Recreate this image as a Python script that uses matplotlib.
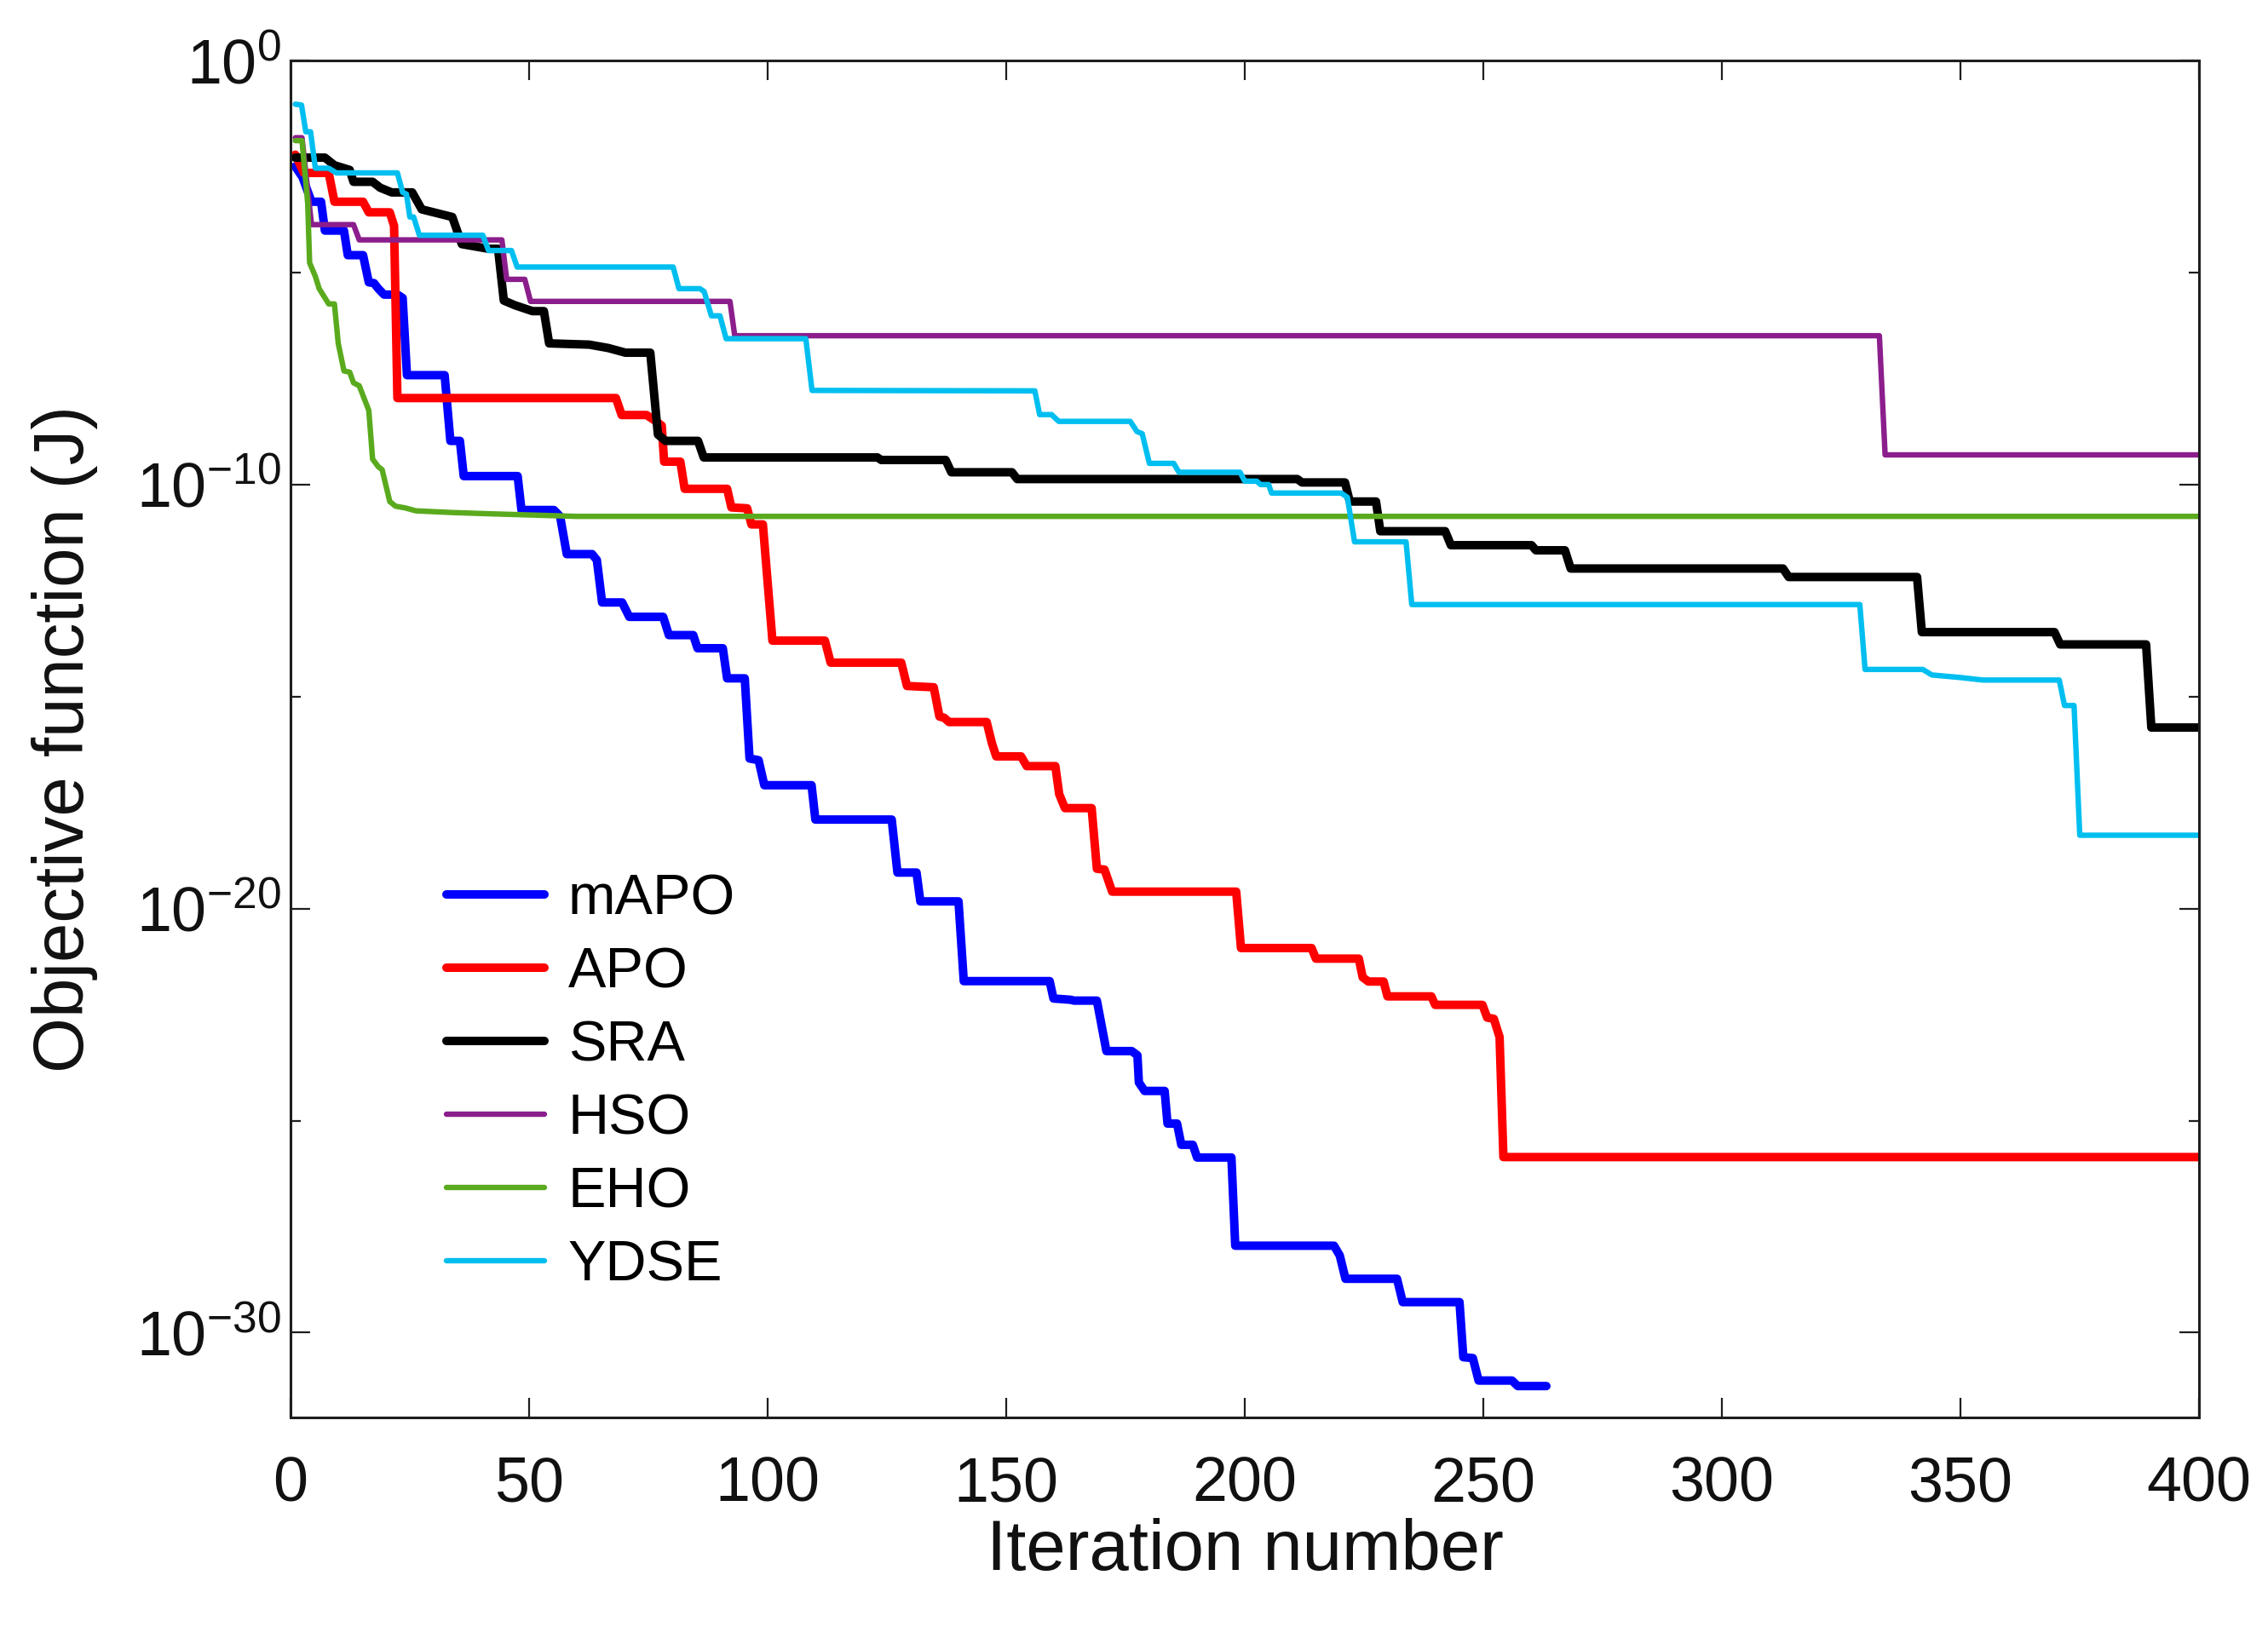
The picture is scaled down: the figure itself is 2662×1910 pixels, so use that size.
import numpy as np
import matplotlib
matplotlib.use("Agg")
import matplotlib.pyplot as plt
from matplotlib.ticker import FixedLocator, FuncFormatter, NullFormatter

plt.rcParams['font.family'] = ['Liberation Sans', 'DejaVu Sans']
plt.rcParams['mathtext.fontset'] = 'custom'
plt.rcParams['mathtext.rm'] = 'Liberation Sans'
plt.rcParams['mathtext.it'] = 'Liberation Sans'
plt.rcParams['mathtext.default'] = 'regular'

# ---------------- data (iteration, log10 of objective) ----------------
mapo_it = [1, 2.5, 4.4, 6.4, 7.2, 11.2, 12, 15.2, 16.4, 17.5, 18.4, 19.6, 22.4, 23.5, 24.4,
           32.3, 33.5, 35.5, 36.3, 47.6, 48.4, 55.2, 56.5, 57.9, 63.2, 64.2, 65.3, 69.5, 71,
           78.1, 79.3, 84.4, 85.3, 90.6, 91.5, 95.2, 96.2, 98.1, 99.3, 109.2, 110.0, 126,
           127.2, 131.2, 132, 140, 141.1, 159.1, 159.9, 163.5, 164.2, 169, 171, 176.3, 177.5,
           177.8, 179, 183.2, 183.8, 185.8, 186.7, 189.1, 190, 197.2, 198.0, 218.7, 219.9,
           221.1, 231.9, 233.1, 245, 245.8, 247.8, 249, 256, 257.2, 263.2]
mapo_log = [-2.5, -2.75, -3.33, -3.33, -4.01, -4.01, -4.59, -4.59, -5.23, -5.25, -5.38, -5.52,
            -5.52, -5.6, -7.42, -7.42, -8.97, -8.97, -9.8, -9.8, -10.6, -10.6, -10.75, -11.64,
            -11.64, -11.78, -12.78, -12.78, -13.12, -13.12, -13.55, -13.55, -13.86, -13.86,
            -14.57, -14.57, -16.46, -16.5, -17.09, -17.09, -17.9, -17.9, -19.15, -19.15,
            -19.83, -19.83, -21.71, -21.71, -22.12, -22.15, -22.17, -22.17, -23.36, -23.36,
            -23.46, -24.1, -24.3, -24.3, -25.07, -25.07, -25.57, -25.57, -25.87, -25.87,
            -27.95, -27.95, -28.18, -28.73, -28.73, -29.28, -29.28, -30.58, -30.6, -31.13,
            -31.13, -31.26, -31.26]

apo_it = [1, 2.8, 8, 9.2, 15.2, 16.4, 20.8, 21.7, 22.4, 68.2, 69.4, 74.6, 76.5, 77.8, 78.3,
          81.7, 82.6, 91.5, 92.4, 95.7, 96.6, 99, 101, 112, 113.2, 128, 129.2, 134.8, 136,
          137, 138, 145.9, 147, 147.9, 153.1, 154.3, 160.3, 161.1, 162.3, 167.9, 169, 170.6,
          172.2, 198.2, 199.2, 214, 214.9, 223.9, 224.7, 225.9, 229.1, 229.9, 239.1, 239.9,
          249.8, 250.8, 252.2, 253.4, 254.2, 400]
apo_log = [-2.22, -2.65, -2.65, -3.33, -3.33, -3.58, -3.58, -3.9, -7.96, -7.96, -8.36, -8.36,
           -8.5, -8.61, -9.46, -9.46, -10.1, -10.1, -10.54, -10.56, -10.94, -10.94, -13.68,
           -13.68, -14.2, -14.2, -14.75, -14.78, -15.47, -15.5, -15.6, -15.6, -16.1, -16.41,
           -16.41, -16.64, -16.64, -17.3, -17.63, -17.63, -19.06, -19.08, -19.6, -19.6,
           -20.93, -20.93, -21.18, -21.18, -21.62, -21.72, -21.72, -22.07, -22.07, -22.27,
           -22.27, -22.57, -22.6, -23.03, -25.86, -25.86]

sra_it = [1, 7.2, 9.2, 12.4, 13.2, 17.2, 18.8, 21.2, 25.5, 27.5, 30, 33.9, 35.9, 41.5, 43.5,
          44.7, 47, 50.7, 53.1, 54.2, 62.6, 66.6, 70.2, 75.4, 77, 78.6, 85.4, 86.6, 123,
          123.8, 137.3, 138.5, 151.2, 152.3, 211, 212, 221, 222, 227.5, 228.4, 242, 243.2,
          260.1, 261, 267.1, 268.3, 312.8, 314, 340.9, 341.9, 369.7, 370.9, 388.9, 390, 400]
sra_log = [-2.29, -2.29, -2.47, -2.58, -2.86, -2.86, -3.0, -3.11, -3.11, -3.51, -3.58, -3.69,
           -4.33, -4.44, -4.44, -5.66, -5.77, -5.91, -5.91, -6.67, -6.7, -6.78, -6.89, -6.89,
           -8.82, -8.97, -8.97, -9.36, -9.36, -9.42, -9.42, -9.71, -9.71, -9.87, -9.87,
           -9.95, -9.95, -10.4, -10.4, -11.1, -11.1, -11.43, -11.43, -11.55, -11.55, -11.98,
           -11.98, -12.18, -12.18, -13.48, -13.48, -13.77, -13.77, -15.73, -15.73]

hso_it = [1, 2.4, 4.4, 13.2, 14.4, 44.3, 45.3, 49.1, 50.3, 92.1, 93.1, 333.0, 334.2, 400]
hso_log = [-1.82, -1.82, -3.87, -3.87, -4.23, -4.23, -5.16, -5.16, -5.68, -5.68, -6.49,
           -6.49, -9.30, -9.30]

eho_it = [1, 2.4, 3.6, 4, 5.2, 6, 8, 9.2, 10, 11.2, 12.4, 13.2, 14.4, 16.4, 17.2, 18.4, 19.2,
          20.8, 22, 24, 26.3, 34, 42, 54, 60, 400]
eho_log = [-1.89, -1.89, -3.37, -4.77, -5.09, -5.38, -5.74, -5.74, -6.67, -7.32, -7.35, -7.6,
           -7.67, -8.25, -9.4, -9.58, -9.65, -10.4, -10.51, -10.55, -10.62, -10.66, -10.69,
           -10.73, -10.75, -10.75]

ydse_it = [1, 2.3, 3.2, 4.2, 5.2, 8, 9.6, 22.4, 23.5, 24.3, 25, 25.8, 27, 40.3, 41.5, 46.3,
           47.5, 80.2, 81.4, 85.8, 86.7, 88.2, 90, 91.3, 108, 109.3, 156, 157, 159.5, 161,
           176, 177.4, 178.5, 180, 185.1, 186.2, 199, 200, 202.5, 203.3, 205, 205.6, 220.2,
           221.5, 223, 233.8, 235, 328.9, 330, 342.1, 344, 349.9, 354.7, 370.7, 371.8, 373.8,
           375, 400]
ydse_log = [-1.03, -1.05, -1.68, -1.68, -2.54, -2.54, -2.65, -2.65, -3.11, -3.15, -3.69,
            -3.69, -4.12, -4.12, -4.48, -4.48, -4.87, -4.87, -5.38, -5.38, -5.45, -6.02,
            -6.02, -6.56, -6.56, -7.78, -7.79, -8.35, -8.35, -8.51, -8.51, -8.75, -8.8, -9.5,
            -9.5, -9.71, -9.71, -9.92, -9.92, -10.0, -10.0, -10.2, -10.2, -10.3, -11.35,
            -11.35, -12.83, -12.83, -14.36, -14.36, -14.49, -14.55, -14.61, -14.61, -15.21,
            -15.21, -18.27, -18.27]

labels = ['mAPO', 'APO', 'SRA', 'HSO', 'EHO', 'YDSE']
colors = ['#0000FF', '#FF0000', '#000000', '#8B1E8C', '#5AAA1E', '#00BFF0']
widths = [3.6, 3.6, 3.6, 2.3, 2.3, 2.3]

x_ticks = [0, 50, 100, 150, 200, 250, 300, 350, 400]
y_major = [1e-30, 1e-20, 1e-10, 1e0]
y_minor = [1e-25, 1e-15, 1e-5]

series = [(mapo_it, mapo_log), (apo_it, apo_log), (sra_it, sra_log),
          (hso_it, hso_log), (eho_it, eho_log), (ydse_it, ydse_log)]

# ---------------- figure ----------------
fig = plt.figure(figsize=(13.31, 9.55), dpi=200)
ax = fig.add_axes([0.1281, 0.1288, 0.8415, 0.834])

for (it, lg), lab, c, w in zip(series, labels, colors, widths):
    ax.plot(it, 10.0 ** np.array(lg), color=c, lw=w, label=lab,
            solid_capstyle='round', solid_joinstyle='round')

ax.set_yscale('log')
ax.set_xlim(0, 400)
ax.set_ylim(1e-32, 1e0)
ax.xaxis.set_major_locator(FixedLocator(x_ticks))
ax.yaxis.set_major_locator(FixedLocator(y_major))
ax.yaxis.set_minor_locator(FixedLocator(y_minor))
ax.yaxis.set_minor_formatter(NullFormatter())
ax.yaxis.set_major_formatter(FuncFormatter(
    lambda v, p: r'$\mathregular{10^{%d}}$' % int(round(np.log10(v)))))

tc = '#1e1e1e'
for s in ax.spines.values():
    s.set_linewidth(1.1)
    s.set_color(tc)
ax.tick_params(which='both', direction='in', top=True, right=True, colors=tc,
               labelcolor='#111111')
ax.tick_params(which='major', length=8.3, width=0.8, labelsize=26.5)
ax.tick_params(axis='x', which='major', pad=16)
ax.tick_params(axis='y', which='major', pad=4)
ax.tick_params(which='minor', length=4.3, width=0.8)

ax.set_xlabel('Iteration number', fontsize=30, color='#111111')
ax.set_ylabel('Objective function (J)', fontsize=30, color='#111111')
ax.xaxis.set_label_coords(0.5, -0.074)
ax.yaxis.set_label_coords(-0.101, 0.5)

leg = ax.legend(loc='upper left', bbox_to_anchor=(0.0815, 0.401), frameon=False,
                fontsize=24, handlelength=1.73, handletextpad=0.42,
                labelspacing=0.36, borderpad=0, borderaxespad=0)

fig.savefig('out.png', dpi=200, facecolor='white')
